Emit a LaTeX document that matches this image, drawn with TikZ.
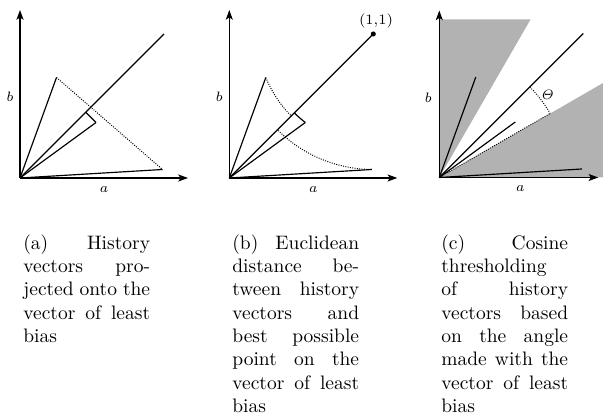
\documentclass[tikz,border=0pt]{standalone}
\usetikzlibrary{arrows.meta}
\begin{document}
\begin{tikzpicture}[x=0.513pt,y=0.513pt,
  axis/.style={line width=0.6pt,-{Stealth[length=5pt,width=3.6pt,inset=1.2pt]}},
  vec/.style={line width=0.6pt},
  guide/.style={line width=0.5pt,dash pattern=on 0.5pt off 0.7pt},
  shadewedge/.style={fill=black!30,draw=none},
  axlabel/.style={inner sep=1pt,font=\fontsize{7.4}{9}\selectfont},
  capt/.style={anchor=north west,inner sep=0pt,text width=65pt,align=justify}]
\useasboundingbox (0,0) rectangle (603,419);

% ---------- panel (a)
\begin{scope}[shift={(20,241)}]
  \coordinate (aO) at (0,0);
  \coordinate (aX) at (168,0);
  \coordinate (aY) at (0,168);
  \coordinate (aD) at (144,144);
  \coordinate (a1) at (36.5,100.5);
  \coordinate (a2) at (76,55.5);
  \coordinate (a3) at (142.5,8.5);
  \coordinate (a2p) at (65.75,65.75);
  \draw[axis] (aO) -- (aX);
  \draw[axis] (aO) -- (aY);
  \draw[vec] (aO) -- (aD);
  \draw[vec] (aO) -- (a1);
  \draw[vec] (aO) -- (a2);
  \draw[vec] (aO) -- (a3);
  \draw[vec] (a2) -- (a2p);
  \draw[guide] (a1) -- (a3);
  \node[axlabel] (alb) at (-10,81) {$b$};
  \node[axlabel] (ala) at (84,-12) {$a$};
\end{scope}

% ---------- panel (b)
\begin{scope}[shift={(229.3,241)}]
  \coordinate (bO) at (0,0);
  \coordinate (bX) at (168,0);
  \coordinate (bY) at (0,168);
  \coordinate (bD) at (144,144);
  \coordinate (b1) at (36.5,100.5);
  \coordinate (b2) at (76,55.5);
  \coordinate (b3) at (142.5,8.5);
  \draw[axis] (bO) -- (bX);
  \draw[axis] (bO) -- (bY);
  \draw[vec] (bO) -- (bD);
  \draw[vec] (bO) -- (b1);
  \draw[vec] (bO) -- (b2);
  \draw[vec] (bO) -- (b3);
  \draw[guide] (b1) arc[start angle=202.03, end angle=225, radius=115.97];
  \draw[vec] (b2) arc[start angle=232.47, end angle=225, radius=111.6];
  \draw[guide] (b3) arc[start angle=269.37, end angle=225, radius=135.5];
  \fill (bD) circle (1.3pt);
  \node[axlabel,inner sep=0pt] (bpt) at (146.7,157) {(1,1)};
  \node[axlabel] (blb) at (-10,81) {$b$};
  \node[axlabel] (bla) at (84,-12) {$a$};
\end{scope}

% ---------- panel (c)
\begin{scope}[shift={(439.3,241.5)}]
  \coordinate (cO) at (0,0);
  \coordinate (cX) at (159,0);
  \coordinate (cY) at (0,167);
  \coordinate (cD) at (144,144);
  \coordinate (c1) at (36.5,100.5);
  \coordinate (c2) at (76,55.5);
  \coordinate (c3) at (142.5,8.5);
  \coordinate (cT) at (110.85,64);
  \coordinate (cA) at (90.51,90.51);
  \fill[shadewedge] (cO) -- (0,158) -- (91.2,158) -- cycle;
  \fill[shadewedge] (cO) -- (170,0) -- (170,98.1) -- cycle;
  \draw[axis] (cO) -- (cX);
  \draw[axis] (cO) -- (cY);
  \draw[vec] (cO) -- (cD);
  \draw[vec] (cO) -- (c1);
  \draw[vec] (cO) -- (c2);
  \draw[vec] (cO) -- (c3);
  \draw[guide] (cO) -- (cT);
  \draw[guide] (cA) arc[start angle=45, end angle=30, radius=128];
  \node[axlabel] (cth) at (108,82.5) {$\mathit{\Theta}$};
  \node[axlabel] (clb) at (-11,80) {$b$};
  \node[axlabel] (cla) at (81,-11) {$a$};
\end{scope}

% ---------- captions
\node[capt] (capa) at (23,185) {(a) History vectors projected onto the vector of least bias};
\node[capt] (capb) at (232,185) {(b) Euclidean distance between history vectors and best possible point on the vector of least bias};
\node[capt] (capc) at (441,185) {(c) Cosine thresholding of history vectors based on the angle made with the vector of least bias};
\end{tikzpicture}
\end{document}
